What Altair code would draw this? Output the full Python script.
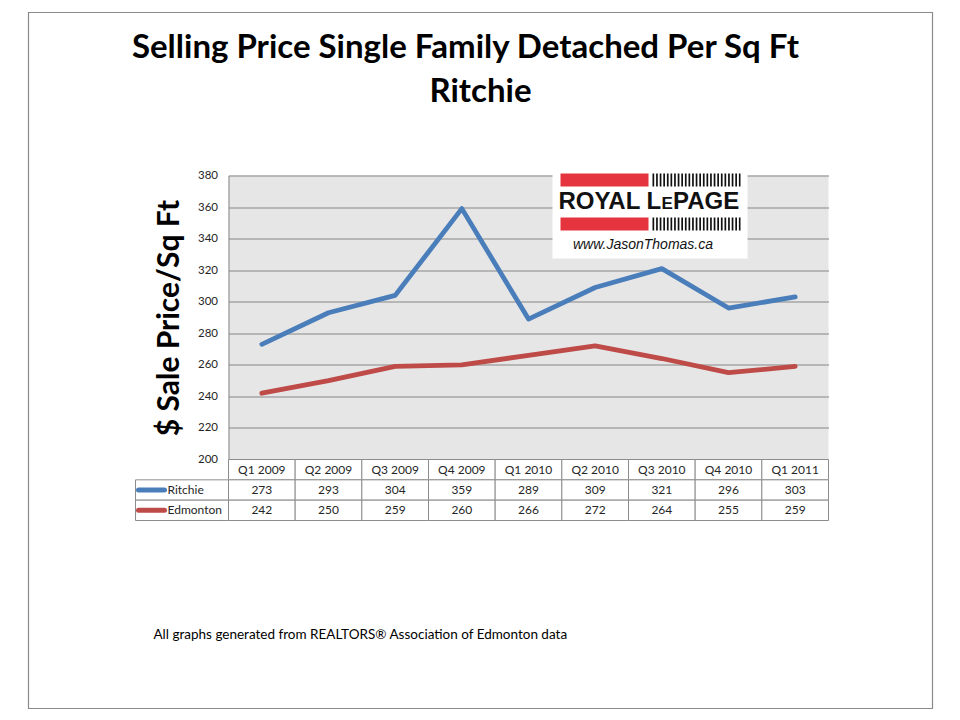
import altair as alt
import pandas as pd

quarters = ["Q1 2009", "Q2 2009", "Q3 2009", "Q4 2009", "Q1 2010",
            "Q2 2010", "Q3 2010", "Q4 2010", "Q1 2011"]
ritchie = [273, 293, 304, 359, 289, 309, 321, 296, 303]
edmonton = [242, 250, 259, 260, 266, 272, 264, 255, 259]
series_names = ["Ritchie", "Edmonton"]
series_colors = ["#4a7ebb", "#be4b48"]
y_ticks = [200, 220, 240, 260, 280, 300, 320, 340, 360, 380]
title_lines = ["Selling Price Single Family Detached Per Sq Ft", "Ritchie"]
y_title = "$ Sale Price/Sq Ft"
footer = "All graphs generated from REALTORS\u00ae Association of Edmonton data"
logo_site = "www.JasonThomas.ca"

W, H, TH = 600, 284, 61
GRID = "#868686"
FONT = "Lato"

line_df = pd.DataFrame({
    "quarter": quarters * 2,
    "value": ritchie + edmonton,
    "series": [s for s in series_names for _ in quarters],
})

rows = ["hdr", "Ritchie", "Edmonton"]
table_df = pd.DataFrame({
    "quarter": quarters * 3,
    "row": [r for r in rows for _ in quarters],
    "text": quarters + [str(v) for v in ritchie] + [str(v) for v in edmonton],
})
label_df = pd.DataFrame({"row": series_names, "series": series_names})
one = pd.DataFrame({"k": [0]})

xscale = alt.Scale(domain=quarters, type="band", paddingInner=0, paddingOuter=0)
yscale_t = alt.Scale(domain=rows, type="band", paddingInner=0, paddingOuter=0)
color = alt.Color("series:N", scale=alt.Scale(domain=series_names, range=series_colors), legend=None)

lines = alt.Chart(line_df).mark_line(strokeWidth=4.8, strokeCap="round", strokeJoin="round").encode(
    x=alt.X("quarter:N", scale=xscale, axis=None, bandPosition=0.5),
    y=alt.Y("value:Q", scale=alt.Scale(domain=[200, 380], nice=False, zero=False),
            axis=alt.Axis(values=y_ticks, title=y_title, grid=True, gridColor=GRID,
                          ticks=False, domain=True, domainColor=GRID,
                          labelPadding=11, labelFont=FONT, labelFontSize=11.5,
                          labelColor="#262626", titleFont=FONT, titleFontSize=30,
                          titleFontWeight="bold", titleColor="#000000", titlePadding=13)),
    color=color,
)

base1 = alt.Chart(one)
border = base1.mark_rect(fill="transparent", stroke="#8a8a8a", strokeWidth=1.2).encode(
    x=alt.value(-200), x2=alt.value(704), y=alt.value(-163), y2=alt.value(533))
title1 = base1.mark_text(font=FONT, fontSize=33, fontWeight="bold", align="center",
                         baseline="alphabetic", color="#000000").encode(
    x=alt.value(237), y=alt.value(-118), text=alt.value(title_lines[0]))
title2 = base1.mark_text(font=FONT, fontSize=33, fontWeight="bold", align="center",
                         baseline="alphabetic", color="#000000").encode(
    x=alt.value(252), y=alt.value(-74), text=alt.value(title_lines[1]))

logo_box = base1.mark_rect(fill="white").encode(
    x=alt.value(324), x2=alt.value(519), y=alt.value(-7), y2=alt.value(83))
red1 = base1.mark_rect(fill="#e5343d").encode(
    x=alt.value(332), x2=alt.value(420), y=alt.value(-2), y2=alt.value(11))
red2 = base1.mark_rect(fill="#e5343d").encode(
    x=alt.value(332), x2=alt.value(420), y=alt.value(42), y2=alt.value(55))
stripes1 = base1.mark_rule(color="#111111", strokeWidth=13, strokeDash=[1.7, 1.9], strokeCap="butt").encode(
    x=alt.value(424), x2=alt.value(512), y=alt.value(4.5))
stripes2 = base1.mark_rule(color="#111111", strokeWidth=13, strokeDash=[1.7, 1.9], strokeCap="butt").encode(
    x=alt.value(424), x2=alt.value(512), y=alt.value(48.5))
logo_a = base1.mark_text(font="Liberation Sans", fontSize=24, fontWeight="bold", align="left",
                         baseline="alphabetic", color="#111111").encode(
    x=alt.value(330), y=alt.value(33), text=alt.value("ROYAL L"))
logo_b = base1.mark_text(font="Liberation Sans", fontSize=17, fontWeight="bold", align="left",
                         baseline="alphabetic", color="#111111").encode(
    x=alt.value(433), y=alt.value(33), text=alt.value("E"))
logo_c = base1.mark_text(font="Liberation Sans", fontSize=24, fontWeight="bold", align="left",
                         baseline="alphabetic", color="#111111").encode(
    x=alt.value(444.5), y=alt.value(33), text=alt.value("PAGE"))
logo_d = base1.mark_text(font="Liberation Sans", fontSize=14, fontStyle="italic", align="center",
                         baseline="alphabetic", color="#111111").encode(
    x=alt.value(414.5), y=alt.value(73), text=alt.value(logo_site))
foot = base1.mark_text(font=FONT, fontSize=13.5, align="left", baseline="middle", color="#000000").encode(
    x=alt.value(-75), y=alt.value(459), text=alt.value(footer))

top = alt.layer(
    border, title1, title2, lines, logo_box, red1, red2, stripes1, stripes2,
    logo_a, logo_b, logo_c, logo_d, foot
).properties(width=W, height=H, view=alt.ViewBackground(fill="#e6e6e6", stroke="transparent"))

cells = alt.Chart(table_df).mark_rect(fill="white", stroke="#8c8c8c", strokeWidth=1).encode(
    x=alt.X("quarter:N", scale=xscale, axis=None),
    y=alt.Y("row:N", scale=yscale_t, axis=None),
)
cell_text = alt.Chart(table_df).mark_text(font=FONT, fontSize=12, color="#262626").encode(
    x=alt.X("quarter:N", scale=xscale, axis=None, bandPosition=0.5),
    y=alt.Y("row:N", scale=yscale_t, axis=None, bandPosition=0.5),
    text="text:N",
)
label_cells = alt.Chart(label_df).mark_rect(fill="white", stroke="#8c8c8c", strokeWidth=1).encode(
    x=alt.value(-93), x2=alt.value(0),
    y=alt.Y("row:N", scale=yscale_t, axis=None),
)
swatch = alt.Chart(label_df).mark_rule(strokeWidth=5, strokeCap="round").encode(
    x=alt.value(-90), x2=alt.value(-64),
    y=alt.Y("row:N", scale=yscale_t, axis=None, bandPosition=0.5),
    color=color,
)
labels = alt.Chart(label_df).mark_text(font=FONT, fontSize=12, align="left", color="#262626").encode(
    x=alt.value(-61),
    y=alt.Y("row:N", scale=yscale_t, axis=None, bandPosition=0.5),
    text="series:N",
)
bottom = alt.layer(cells, label_cells, cell_text, swatch, labels).properties(
    width=W, height=TH, view=alt.ViewBackground(fill="white", stroke="transparent"))

chart = alt.vconcat(top, bottom, spacing=0, bounds="flush").properties(
    padding={"left": 19.5, "top": 3.5, "right": 5, "bottom": 5},
    background="white",
).configure_view(strokeWidth=0)

chart.save("out.html", embed_options={"renderer": "svg", "actions": False})
